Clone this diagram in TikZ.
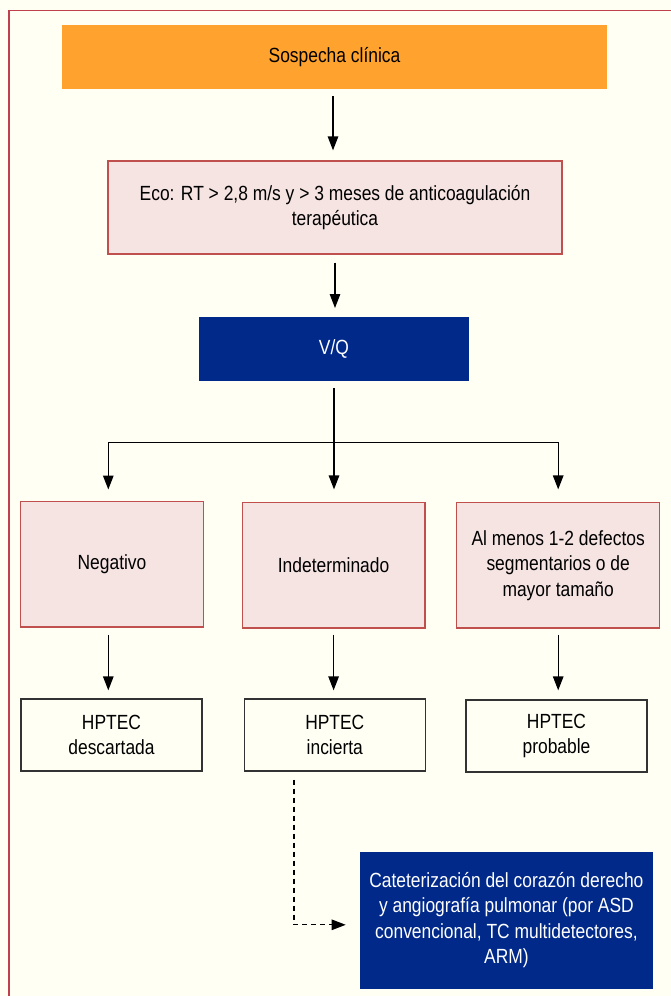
\documentclass[tikz,border=0pt]{standalone}
\usepackage{fontspec}
\setmainfont[FakeStretch=0.85]{Liberation Sans}
\usepackage{tikz}
\usetikzlibrary{arrows.meta}

\definecolor{fundo}{RGB}{255,255,244}
\definecolor{moldura}{RGB}{192,64,77}
\definecolor{laranja}{RGB}{255,163,46}
\definecolor{rosa}{RGB}{245,228,226}
\definecolor{rosaborda}{RGB}{192,80,77}
\definecolor{azul}{RGB}{0,41,138}

\begin{document}
\begin{tikzpicture}[x=1pt, y=-1pt,
    every node/.style={font=\fontsize{20.5}{25.5}\selectfont, align=center, inner sep=0pt, text=black},
    >={Triangle[length=14pt, width=10.5pt]},
    seta/.style={->, line width=1.3pt},
    cajarosa/.style={draw=rosaborda, fill=rosa, line width=1.3pt},
    cajaazul/.style={fill=azul, text=white},
    resultado/.style={draw=black!80, fill=fundo, line width=1.3pt, minimum width=181pt, minimum height=72pt}]

    \useasboundingbox (0,0) rectangle (671,996);
    \fill[fundo] (0,0) rectangle (671,996);
    \clip (0,0) rectangle (671,996);
    % moldura
    \draw[moldura, line width=1.8pt] (9,1000) -- (9,10.5) -- (675,10.5);

    % inicio
    \node[fill=laranja, minimum width=545pt, minimum height=64pt] (sospecha) at (334.5,56.8) {Sospecha clínica};
    \node[cajarosa, minimum width=454pt, minimum height=93pt] (eco) at (335,207.5)
        {Eco: RT > 2,8 m/s y > 3 meses de anticoagulación\\terapéutica};
    \node[cajaazul, minimum width=270pt, minimum height=64pt] (vq) at (334,348.7) {V/Q};

    % resultados de V/Q
    \node[cajarosa, minimum width=182.6pt, minimum height=125.7pt] (negativo) at (112,564) {Negativo};
    \node[cajarosa, minimum width=182.7pt, minimum height=125.7pt] (indet) at (333.6,565.2) {Indeterminado};
    \node[cajarosa, minimum width=203pt, minimum height=125.7pt] (defectos) at (558.2,565.2)
        {Al menos 1-2 defectos\\segmentarios o de\\mayor tamaño};

    % HPTEC
    \node[resultado] (descartada) at (111.5,735) {HPTEC\\descartada};
    \node[resultado] (incierta) at (334.8,735) {HPTEC\\incierta};
    \node[resultado] (probable) at (556.5,736) {HPTEC\\probable};

    \node[cajaazul, minimum width=293pt, minimum height=136.7pt] (cateter) at (506.4,920.3)
        {Cateterización del corazón derecho\\y angiografía pulmonar (por ASD\\convencional, TC multidetectores,\\ARM)};

    % setas
    \draw[seta, shorten <=7pt, shorten >=10pt] ([xshift=-1.5pt]sospecha.south) -- ([xshift=-1.5pt]sospecha.south |- eco.north);
    \draw[seta, shorten <=8pt, shorten >=8.5pt] (eco.south) -- (eco.south |- vq.north);

    \coordinate (divide) at (334,442.3);
    \draw[line width=1.3pt, shorten <=7pt] (vq.south) -- (divide);
    \draw[seta, shorten >=11pt] (divide) -| ([xshift=-3.7pt]negativo.north);
    \draw[seta, shorten >=12.3pt] (divide) -- (divide |- indet.north);
    \draw[seta, shorten >=12.3pt] (divide) -| (defectos.north);

    \draw[seta, shorten <=7pt, shorten >=8pt] ([xshift=-3.7pt]negativo.south) -- ([xshift=-3.7pt]negativo.south |- descartada.north);
    \draw[seta, shorten <=6pt, shorten >=8pt] (indet.south) -- (indet.south |- incierta.north);
    \draw[seta, shorten <=6pt, shorten >=9pt] (defectos.south) -- (defectos.south |- probable.north);

    % incierta -> cateterizacion
    \draw[seta, line width=1.1pt, dash pattern=on 5pt off 4pt, shorten <=8pt, shorten >=14pt]
        ([xshift=-40.8pt]incierta.south) |- ([yshift=-4.5pt]cateter.west);

\end{tikzpicture}
\end{document}
